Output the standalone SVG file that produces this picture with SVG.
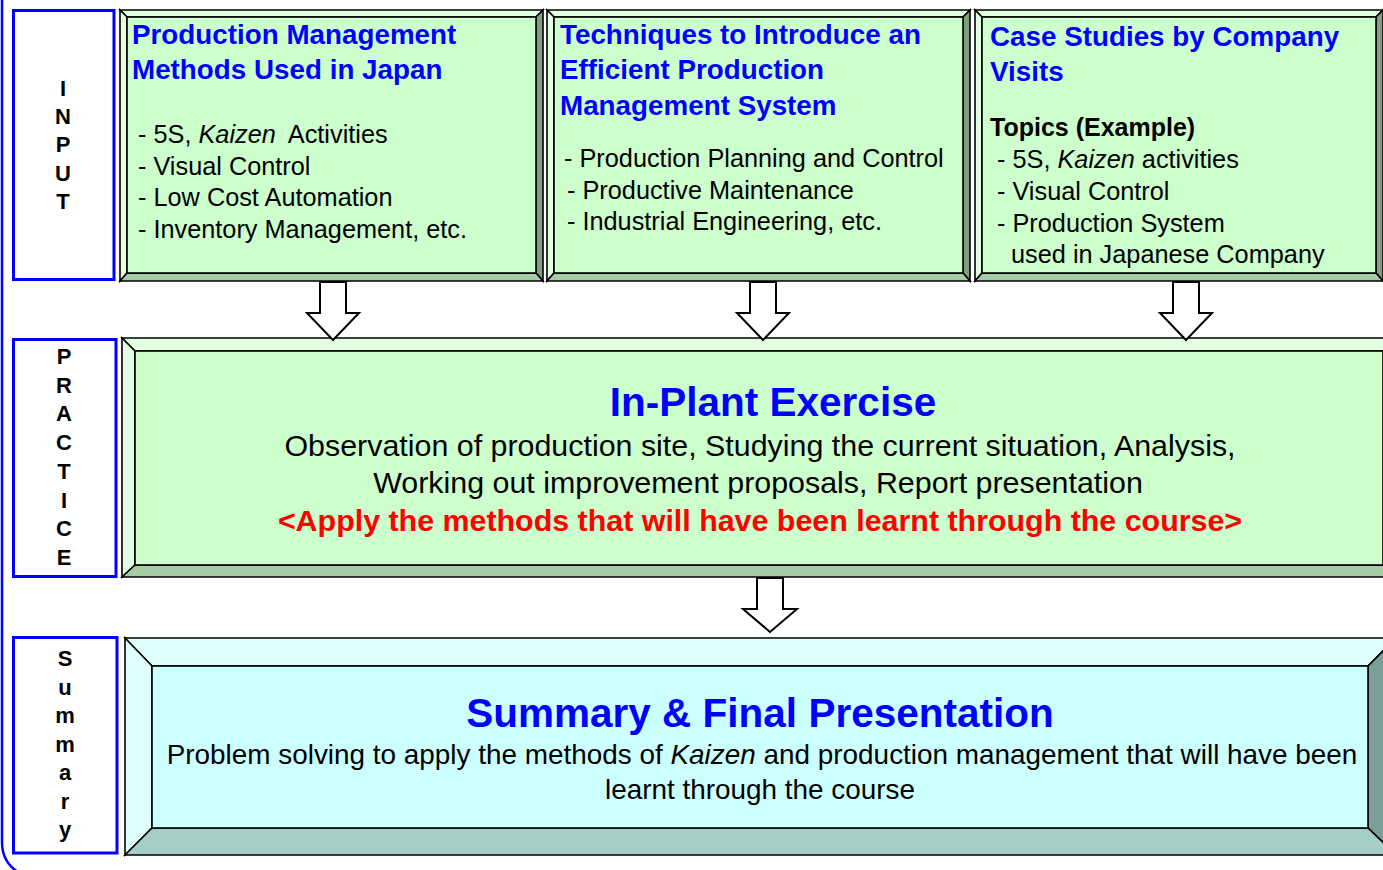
<svg xmlns="http://www.w3.org/2000/svg" width="1383" height="870" viewBox="0 0 1383 870">
<style>
text{font-family:"Liberation Sans",Arial,sans-serif}
.lbl{fill:none;stroke:#0000ff;stroke-width:3}
.lt{font-size:22px;font-weight:bold;fill:#000;text-anchor:middle}
.edge{stroke:#000;stroke-width:1.6;stroke-linejoin:miter}
.gL{fill:#e2ffe2}.gI{fill:#ccffcc}.gR{fill:#7f9f7f}.gB{fill:#a6cca6}
.cL{fill:#e0ffff}.cI{fill:#ccffff}.cR{fill:#7a9e9a}.cB{fill:#a5cecb}
.ttl{font-size:27.8px;font-weight:bold;fill:#0000ff}
.bul{font-size:25.3px;fill:#000}
.big{font-size:40.5px;font-weight:bold;fill:#0000ff;text-anchor:middle}
.desc{font-size:30.4px;fill:#000;text-anchor:middle}
.red{font-size:30.4px;font-weight:bold;fill:#ff0000;text-anchor:middle}
.sdesc{font-size:27.9px;fill:#000;text-anchor:middle}
.arr{fill:#fff;stroke:#000;stroke-width:2}
</style>
<path d="M2,0 V842 Q2,862 18,872" fill="none" stroke="#0000ff" stroke-width="2.5"/>

<g id="label-input">
<rect class="lbl" x="13.5" y="10.5" width="100.5" height="269"/>
<text class="lt" x="63" y="96">I</text>
<text class="lt" x="63" y="124">N</text>
<text class="lt" x="63" y="152">P</text>
<text class="lt" x="63" y="181">U</text>
<text class="lt" x="63" y="209">T</text>
</g>
<g id="label-practice">
<rect class="lbl" x="13.5" y="339.5" width="102.5" height="237"/>
<text class="lt" x="64" y="364">P</text>
<text class="lt" x="64" y="393">R</text>
<text class="lt" x="64" y="421">A</text>
<text class="lt" x="64" y="450">C</text>
<text class="lt" x="64" y="479">T</text>
<text class="lt" x="64" y="508">I</text>
<text class="lt" x="64" y="536">C</text>
<text class="lt" x="64" y="565">E</text>
</g>
<g id="label-summary">
<rect class="lbl" x="13.5" y="637.5" width="103.5" height="215.5"/>
<text class="lt" x="65" y="666">S</text>
<text class="lt" x="65" y="694.5">u</text>
<text class="lt" x="65" y="723">m</text>
<text class="lt" x="65" y="751.5">m</text>
<text class="lt" x="65" y="780">a</text>
<text class="lt" x="65" y="808.5">r</text>
<text class="lt" x="65" y="837">y</text>
</g>

<g id="box-methods">
<polygon class="gL edge" points="120,10 543,10 536,17 127,17"/>
<polygon class="gL edge" points="120,10 127,17 127,273 120,281"/>
<polygon class="gR edge" points="543,10 543,281 536,273 536,17"/>
<polygon class="gB edge" points="120,281 127,273 536,273 543,281"/>
<rect class="gI edge" x="127" y="17" width="409" height="256"/>
<text class="ttl" x="132" y="44">Production Management</text>
<text class="ttl" x="132" y="79">Methods Used in Japan</text>
<text class="bul" x="138" y="143">- 5S, <tspan font-style="italic">Kaizen</tspan><tspan dx="12">Activities</tspan></text>
<text class="bul" x="138" y="174.5">- Visual Control</text>
<text class="bul" x="138" y="206">- Low Cost Automation</text>
<text class="bul" x="138" y="238">- Inventory Management, etc.</text>
</g>

<g id="box-techniques">
<polygon class="gL edge" points="547,10 970,10 963,17 554,17"/>
<polygon class="gL edge" points="547,10 554,17 554,273 547,281"/>
<polygon class="gR edge" points="970,10 970,281 963,273 963,17"/>
<polygon class="gB edge" points="547,281 554,273 963,273 970,281"/>
<rect class="gI edge" x="554" y="17" width="409" height="256"/>
<text class="ttl" x="560" y="44">Techniques to Introduce an</text>
<text class="ttl" x="560" y="79">Efficient Production</text>
<text class="ttl" x="560" y="115">Management System</text>
<text class="bul" x="564" y="167">- Production Planning and Control</text>
<text class="bul" x="567" y="199">- Productive Maintenance</text>
<text class="bul" x="567" y="230">- Industrial Engineering, etc.</text>
</g>

<g id="box-cases">
<polygon class="gL edge" points="975,10 1383,10 1376,17 982,17"/>
<polygon class="gL edge" points="975,10 982,17 982,273 975,281"/>
<polygon class="gR edge" points="1383,10 1383,281 1376,273 1376,17"/>
<polygon class="gB edge" points="975,281 982,273 1376,273 1383,281"/>
<rect class="gI edge" x="982" y="17" width="394" height="256"/>
<text class="ttl" x="990" y="46">Case Studies by Company</text>
<text class="ttl" x="990" y="81">Visits</text>
<text x="990" y="136" style="font-size:25px;font-weight:bold;fill:#000">Topics (Example)</text>
<text class="bul" x="997" y="168">- 5S, <tspan font-style="italic">Kaizen</tspan> activities</text>
<text class="bul" x="997" y="200">- Visual Control</text>
<text class="bul" x="997" y="232">- Production System</text>
<text class="bul" x="1011" y="263">used in Japanese Company</text>
</g>

<g id="box-practice">
<polygon class="gL edge" points="122,338 1396,338 1383,351 135,351"/>
<polygon class="gL edge" points="122,338 135,351 135,565 122,577"/>
<polygon class="gR edge" points="1396,338 1396,577 1383,565 1383,351"/>
<polygon class="gB edge" points="122,577 135,565 1383,565 1396,577"/>
<rect class="gI edge" x="135" y="351" width="1248" height="214"/>
<text class="big" x="773" y="416">In-Plant Exercise</text>
<text class="desc" x="760" y="456">Observation of production site, Studying the current situation, Analysis,</text>
<text class="desc" x="758" y="493">Working out improvement proposals, Report presentation</text>
<text class="red" x="760" y="531">&lt;Apply the methods that will have been learnt through the course&gt;</text>
</g>

<g id="box-summary">
<polygon class="cL edge" points="125,638 1396,638 1368,666 152,666"/>
<polygon class="cL edge" points="125,638 152,666 152,828 125,855"/>
<polygon class="cR edge" points="1396,638 1396,855 1368,828 1368,666"/>
<polygon class="cB edge" points="125,855 152,828 1368,828 1396,855"/>
<rect class="cI edge" x="152" y="666" width="1216" height="162"/>
<text class="big" x="760" y="727">Summary &amp; Final Presentation</text>
<text class="sdesc" x="762" y="764">Problem solving to apply the methods of <tspan font-style="italic">Kaizen</tspan> and production management that will have been</text>
<text class="sdesc" x="760" y="799">learnt through the course</text>
</g>

<g id="connectors">
<polygon class="arr" points="320,282 346,282 346,313 359,313 333,340 307,313 320,313"/>
<polygon class="arr" points="750,282 776,282 776,313 789,313 763,340 737,313 750,313"/>
<polygon class="arr" points="1173,282 1199,282 1199,313 1212,313 1186,340 1160,313 1173,313"/>
<polygon class="arr" points="757,578 783,578 783,609 797,609 770,632 743,609 757,609"/>
</g>
</svg>
